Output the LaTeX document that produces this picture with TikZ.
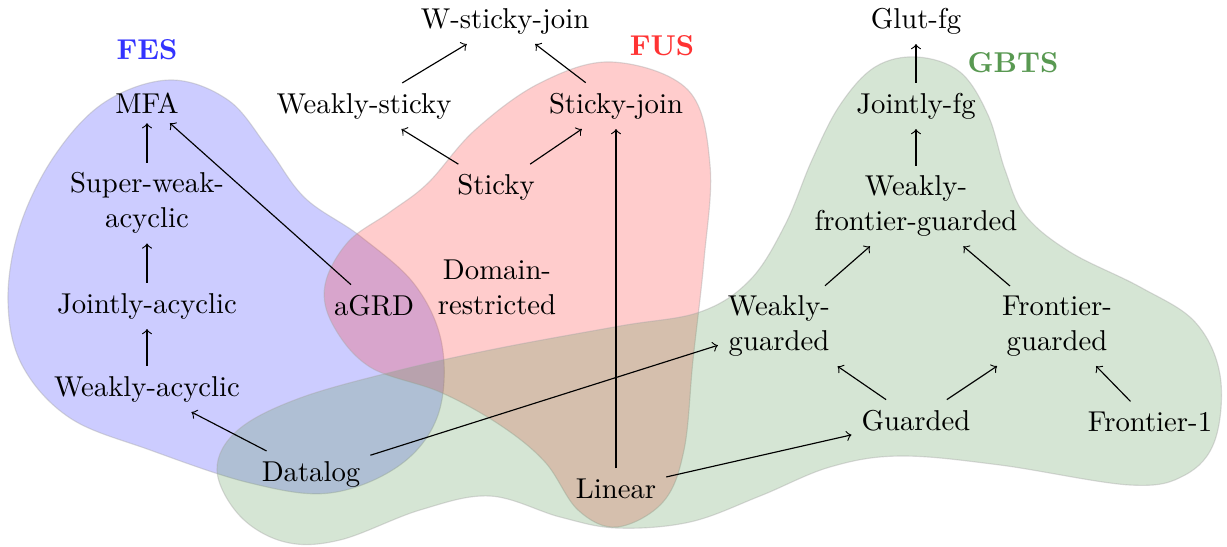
\documentclass[tikz,border=0pt]{standalone}
\definecolor{fescol}{rgb}{0.2,0.2,1}
\definecolor{fuscol}{rgb}{1,0.2,0.2}
\definecolor{gbtscol}{rgb}{0.35,0.6,0.32}
\tikzset{
  lbl/.style={anchor=base},
  ml/.style={align=center},
  arr/.style={->, line width=0.4pt},
  blob/.style={draw=black!35, line width=0.4pt, draw opacity=0.4, fill opacity=0.25},
  setname/.style={anchor=base, font=\bfseries},
}
\begin{document}
\begin{tikzpicture}[x=0.3484pt,y=-0.3484pt]
\useasboundingbox (0,0) rectangle (1227,546);
% FES blob
\path[blob, fill=fescol] plot[smooth cycle, tension=0.6] coordinates {
(170,80) (228,100) (268,148) (305,198) (360,236) (415,285) (442,345) (438,415)
(400,465) (330,493) (250,483) (150,450) (70,418) (22,365) (8,300) (20,226)
(55,155) (105,102)};
% FUS blob
\path[blob, fill=fuscol] plot[smooth cycle, tension=0.6] coordinates {
(612,62) (688,90) (710,165) (704,260) (693,360) (684,450) (663,502) (617,527)
(578,510) (545,462) (500,425) (440,392) (370,367) (333,325) (325,285) (348,242)
(390,212) (428,183) (475,130) (540,83)};
% GBTS blob
\path[blob, fill=gbtscol] plot[smooth cycle, tension=0.6] coordinates {
(917,57) (960,72) (988,115) (1005,170) (1025,215) (1070,252) (1140,287) (1195,322)
(1220,375) (1215,440) (1185,475) (1130,485) (1000,465) (900,456) (830,467) (760,496)
(690,522) (617,528) (560,517) (490,496) (420,510) (340,540) (285,542) (240,516)
(217,470) (238,430) (300,398) (400,370) (500,348) (620,326) (700,312) (750,280)
(785,225) (812,160) (840,105) (875,67)};
% set names
\node[setname, text=fescol] (fes) at (147,59) {FES};
\node[setname, text=fuscol] (fus) at (662,55.5) {FUS};
\node[setname, text=gbtscol] (gbts) at (1013,72) {GBTS};
% classes
\node[lbl] (wsj) at (505,28) {W-sticky-join};
\node[lbl] (glut) at (916,28) {Glut-fg};
\node[lbl] (mfa) at (147,113) {MFA};
\node[lbl] (ws) at (364,113) {Weakly-sticky};
\node[lbl] (sj) at (616,113) {Sticky-join};
\node[lbl] (jfg) at (916,113) {Jointly-fg};
\node[ml] (swa) at (147,203) {Super-weak-\\acyclic};
\node[lbl] (sticky) at (496,194.5) {Sticky};
\node[ml] (wfg) at (916,206) {Weakly-\\frontier-guarded};
\node[lbl] (ja) at (147,313) {Jointly-acyclic};
\node[lbl] (agrd) at (374,315) {aGRD};
\node[ml] (dr) at (497,287.5) {Domain-\\restricted};
\node[ml] (wg) at (779,326) {Weakly-\\guarded};
\node[ml] (fg) at (1057,326) {Frontier-\\guarded};
\node[lbl] (wa) at (147,396) {Weakly-acyclic};
\node[lbl] (guarded) at (916,430) {Guarded};
\node[lbl] (f1) at (1150,431) {Frontier-1};
\node[lbl] (datalog) at (311,481) {Datalog};
\node[lbl] (linear) at (616,498) {Linear};
% arrows
\draw[arr] (swa) -- (mfa);
\draw[arr] (ja) -- (swa);
\draw[arr] (wa) -- (ja);
\draw[arr] (agrd) -- (mfa);
\draw[arr] (datalog) -- (wa);
\draw[arr] (datalog) -- (wg);
\draw[arr] (ws) -- (wsj);
\draw[arr] (sj) -- (wsj);
\draw[arr] (sticky) -- (ws);
\draw[arr] (sticky) -- (sj);
\draw[arr] (linear) -- (sj);
\draw[arr] (linear) -- (guarded);
\draw[arr] (jfg) -- (glut);
\draw[arr] (wfg) -- (jfg);
\draw[arr] (wg) -- (wfg);
\draw[arr] (fg) -- (wfg);
\draw[arr] (guarded) -- (wg);
\draw[arr] (guarded) -- (fg);
\draw[arr] (f1) -- (fg);
\end{tikzpicture}
\end{document}
